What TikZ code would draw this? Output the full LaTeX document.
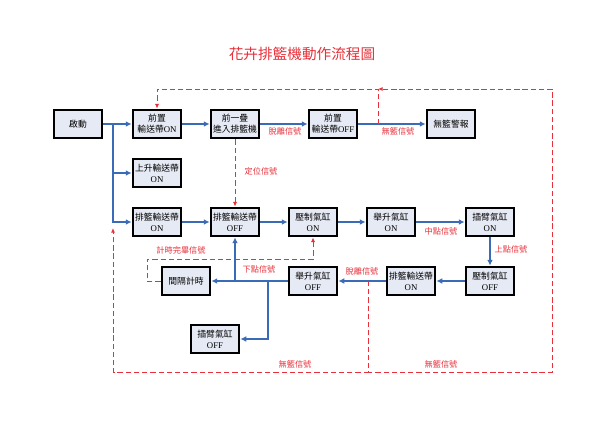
\documentclass[tikz,border=0pt]{standalone}
\usepackage{fontspec}
\setmainfont{Liberation Serif}
\newfontfamily\cjk{Noto Sans CJK TC}
\usetikzlibrary{arrows.meta}
\definecolor{flowblue}{HTML}{3A6BB6}
\definecolor{sigred}{HTML}{E8303A}
\definecolor{boxfill}{HTML}{E6EAF4}
\newcommand{\zh}[1]{{\cjk #1}}

\begin{document}
\begin{tikzpicture}[x=0.3mm, y=-0.3mm,
	stepbox/.style={draw=black, line width=1.8pt, fill=boxfill, minimum width=14.6mm, minimum height=8.6mm,
		inner sep=1pt, align=center, font=\fontsize{7.5}{9.5}\selectfont},
	flow/.style={draw=flowblue, line width=1.3pt, -{Latex[length=5pt,width=5pt]}},
	sig/.style={draw=sigred, line width=0.85pt, dash pattern=on 4.5pt off 2.5pt, -{Latex[length=4pt,width=3.5pt]}},
	siglabel/.style={text=sigred, font=\cjk\fontsize{7}{8}\selectfont, inner sep=1pt}]
	%%%%% START %%%%%
	
	\useasboundingbox (0,0) rectangle (600,421);
	
	\node[text=sigred, font=\cjk\fontsize{12.5}{14}\selectfont] (title) at (302,54) {花卉排籃機動作流程圖};
	
	% top row
	\node[stepbox] (start) at (78,124) {\zh{啟動}};
	\node[stepbox] (preOn) at (157,124) {\zh{前置}\\\zh{輸送帶}ON};
	\node[stepbox] (stackIn) at (235,124) {\zh{前一疊}\\\zh{進入排籃機}};
	\node[stepbox] (preOff) at (333,124) {\zh{前置}\\\zh{輸送帶}OFF};
	\node[stepbox] (alarm) at (451,124) {\zh{無籃警報}};
	
	% middle rows
	\node[stepbox] (liftOn) at (157,173) {\zh{上升輸送帶}\\ON};
	\node[stepbox] (trayOn) at (157,222) {\zh{排籃輸送帶}\\ON};
	\node[stepbox] (trayOff) at (235,222) {\zh{排籃輸送帶}\\OFF};
	\node[stepbox] (pressOn) at (313,222) {\zh{壓制氣缸}\\ON};
	\node[stepbox] (raiseOn) at (391,222) {\zh{舉升氣缸}\\ON};
	\node[stepbox] (armOn) at (490,222) {\zh{插臂氣缸}\\ON};
	
	% return row
	\node[stepbox] (pressOff) at (490,281) {\zh{壓制氣缸}\\OFF};
	\node[stepbox] (trayOnB) at (411,281) {\zh{排籃輸送帶}\\ON};
	\node[stepbox] (raiseOff) at (313,281) {\zh{舉升氣缸}\\OFF};
	\node[stepbox] (timer) at (186,281) {\zh{間隔計時}};
	\node[stepbox] (armOff) at (215,339) {\zh{插臂氣缸}\\OFF};
	
	% junction points
	\coordinate (fork) at (113,124);
	\coordinate (forkLow) at (113,228);
	\coordinate (upJoin) at (235,281);
	\coordinate (downJoin) at (268,281);
	\coordinate (noTrayA) at (368,281);
	\coordinate (noTrayB) at (378,124);
	\coordinate (loopLeft) at (113,372);
	\coordinate (loopRight) at (552,372);
	\coordinate (loopTop) at (552,89);
	\coordinate (topJoin) at (378,89);
	\coordinate (timerTurn) at (147,259);
	
	% blue flow
	\draw[flow] (start) -- (fork) -- (preOn);
	\draw[flow] (fork) |- (liftOn);
	\draw[flow] (fork) |- (trayOn);
	\draw[flow] (preOn) -- (stackIn);
	\draw[flow] (stackIn) -- (preOff);
	\draw[flow] (preOff) -- (alarm);
	\draw[flow] (trayOn) -- (trayOff);
	\draw[flow] (trayOff) -- (pressOn);
	\draw[flow] (pressOn) -- (raiseOn);
	\draw[flow] (raiseOn) -- (armOn);
	\draw[flow] (armOn) -- (pressOff);
	\draw[flow] (pressOff) -- (trayOnB);
	\draw[flow] (trayOnB) -- (raiseOff);
	\draw[flow] (raiseOff) -- (timer);
	\draw[flow] (upJoin) -- (trayOff);
	\draw[flow] (downJoin) |- (armOff);
	
	% red signals
	\draw[sig] (stackIn) -- (trayOff);
	\draw[sig] (timer.west) -| (timerTurn) -| (pressOn.south);
	\draw[sig] (noTrayA) |- (loopLeft) -- (forkLow);
	\draw[sig] (noTrayA) |- (loopRight) -- (loopTop) -- (topJoin);
	\draw[sig] (noTrayB) -- (topJoin) -| (preOn);
	
	% signal labels
	\node[siglabel] (lblDetachTop) at (285,131) {脫離信號};
	\node[siglabel] (lblNoTrayTop) at (398,131) {無籃信號};
	\node[siglabel] (lblLocate) at (261,171) {定位信號};
	\node[siglabel] (lblTimerDone) at (181,250) {計時完畢信號};
	\node[siglabel] (lblLowPoint) at (259,269) {下點信號};
	\node[siglabel] (lblMidPoint) at (441,231) {中點信號};
	\node[siglabel] (lblUpPoint) at (511,249) {上點信號};
	\node[siglabel] (lblDetachLow) at (362,271) {脫離信號};
	\node[siglabel] (lblNoTrayL) at (295,364) {無籃信號};
	\node[siglabel] (lblNoTrayR) at (441,364) {無籃信號};
	
	%%%%% END %%%%%
\end{tikzpicture}
\end{document}
